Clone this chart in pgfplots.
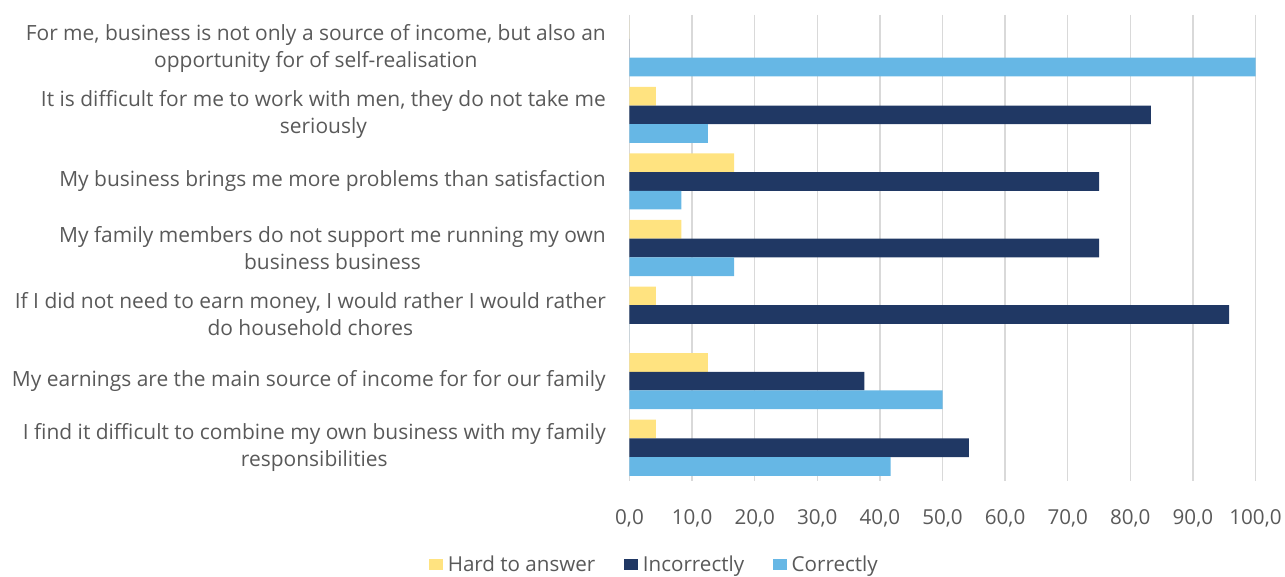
\documentclass[border=0pt]{standalone}
\usepackage{pgfplots}
\pgfplotsset{compat=1.18}
\usepackage{fontspec}
\setmainfont{Open Sans}
\definecolor{cyel}{HTML}{FFE380}
\definecolor{cnavy}{HTML}{203864}
\definecolor{cblue}{HTML}{66B7E5}
\definecolor{ctext}{HTML}{595959}
\definecolor{cgrid}{HTML}{D9D9D9}
\begin{document}
\begin{tikzpicture}[x=1pt,y=1pt]
\useasboundingbox (0,0) rectangle (1285,577);
\begin{axis}[
  at={(629.5pt,96pt)}, anchor=south west,
  scale only axis, width=626pt, height=466pt,
  xbar=0pt, bar width=18.7pt,
  xmin=0, xmax=100, ymin=-0.5, ymax=6.5, y dir=reverse,
  xtick={0,10,...,100},
  ytick={0,1,2,3,4,5,6},
  yticklabels={{For me, business is not only a source of income, but also an\\opportunity for of self-realisation},
    {It is difficult for me to work with men, they do not take me\\seriously},
    {My business brings me more problems than satisfaction},
    {My family members do not support me running my own\\business business},
    {If I did not need to earn money, I would rather I would rather\\do household chores},
    {My earnings are the main source of income for for our family},
    {I find it difficult to combine my own business with my family\\responsibilities}},
  yticklabel style={align=center, inner sep=0pt, xshift=-23.5pt, font=\fontsize{20.95}{27}\selectfont, text=ctext},
  xticklabel style={font=\fontsize{20.6}{24}\selectfont, text=ctext, yshift=-25pt},
  /pgf/number format/.cd, fixed, fixed zerofill, precision=1, use comma, assume math mode=true, /pgfplots/.cd,
  xmajorgrids, grid style={cgrid, line width=1.3pt},
  axis line style={draw=none}, major tick length=0pt,
  legend columns=3,
  legend style={at={(0.04,-0.18)}, anchor=center, draw=none, font=\fontsize{20.6}{24}\selectfont, text=ctext,
    /tikz/every odd column/.append style={column sep=3pt},
    /tikz/every even column/.append style={column sep=27pt}},
  legend image code/.code={\fill[#1] (0pt,-5.5pt) rectangle (13.5pt,5.5pt);},
]
\addplot[fill=cyel, draw=none, bar shift=18.7pt] coordinates {(0,0) (4.2,1) (16.7,2) (8.3,3) (4.2,4) (12.5,5) (4.2,6)};
\addplot[fill=cnavy, draw=none, bar shift=0pt] coordinates {(0,0) (83.3,1) (75.0,2) (75.0,3) (95.8,4) (37.5,5) (54.2,6)};
\addplot[fill=cblue, draw=none, bar shift=-18.7pt] coordinates {(100,0) (12.5,1) (8.3,2) (16.7,3) (0,4) (50.0,5) (41.7,6)};
\legend{Hard to answer, Incorrectly, Correctly}
\end{axis}
\end{tikzpicture}
\end{document}
